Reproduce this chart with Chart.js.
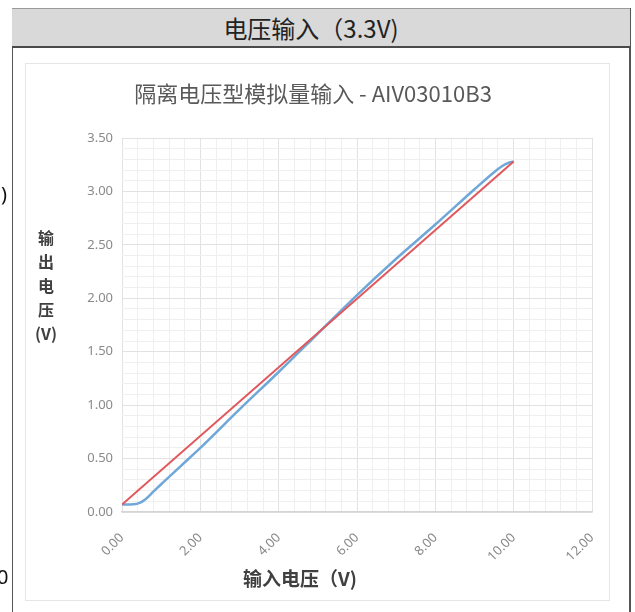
<!DOCTYPE html>
<html>
<head>
<meta charset="utf-8">
<script src="https://cdn.jsdelivr.net/npm/chart.js@4.4.1/dist/chart.umd.min.js"></script>
<style>
  html, body { margin:0; padding:0; background:#ffffff; }
  body { width:635px; height:612px; position:relative; overflow:hidden;
         font-family:"Noto Sans CJK SC","Noto Sans",sans-serif; }
  #frame { position:absolute; left:12px; top:8px; width:616px; height:620px;
           border-left:1.5px solid #555; border-right:2px solid #555; }
  #header { position:absolute; left:12px; top:8px; width:618px; height:40px;
            background:#d9d9d9; border-top:1px solid #9a9a9a; border-bottom:2px solid #4a4a4a;
            box-sizing:border-box; text-align:center; line-height:37px; padding-right:20px;
            font-size:24px; color:#222; }
  #panel { position:absolute; left:25px; top:63px; width:585px; height:538px;
           border:1px solid #e6e6e6; background:#fff; box-sizing:border-box; }
  canvas { position:absolute; left:0; top:0; }
  .txt { position:absolute; color:#404040; font-weight:bold; white-space:nowrap; }
  #ytitle { left:34px; top:225px; width:24px; text-align:center; font-size:16px; line-height:24px; }
  #xtitle { left:200px; top:564px; width:200px; text-align:center; font-size:19px; }
  .stray { position:absolute; color:#111; font-size:20px; font-family:"Noto Sans","DejaVu Sans",sans-serif; }
</style>
</head>
<body>
<div id="frame"></div>
<div id="header">电压输入（3.3V)</div>
<div id="panel"></div>
<canvas id="c" width="635" height="612"></canvas>
<div class="txt" id="ytitle">输<br>出<br>电<br>压<br>(V)</div>
<div class="txt" id="xtitle">输入电压（V)</div>
<div class="stray" style="left:1px; top:180px;">)</div>
<div class="stray" style="left:-3px; top:563px;">0</div>
<script>
// ---- data ----
const chartTitle = "隔离电压型模拟量输入 - AIV03010B3";
const redX  = [0, 10];
const redY  = [0.07, 3.28];
const blueX = [0, 0.3, 0.45, 0.6, 0.8, 1.0, 1.5, 2, 3, 4, 5, 6, 7, 8, 9, 9.5, 9.7, 9.85, 10];
const blueY = [0.07, 0.072, 0.085, 0.12, 0.19, 0.26, 0.43, 0.6, 0.96, 1.31, 1.67, 2.03, 2.37, 2.69, 3.02, 3.18, 3.235, 3.265, 3.28];
const xMin = 0, xMax = 12, xStep = 0.4, xLabelStep = 2;
const yMin = 0, yMax = 3.5, yStep = 0.1, yLabelStep = 0.5;

const toPts = (xs, ys) => xs.map((x, i) => ({x: x, y: ys[i]}));
const isMult = (v, m) => Math.abs(v / m - Math.round(v / m)) < 1e-6;
const tickFont = {family: "'Noto Sans', 'DejaVu Sans', sans-serif", size: 13};

new Chart(document.getElementById('c'), {
  type: 'line',
  data: {
    datasets: [
      { label: '理论', data: toPts(redX, redY), borderColor: '#e0575c', borderWidth: 2,
        pointRadius: 0, tension: 0 },
      { label: '实测', data: toPts(blueX, blueY), borderColor: '#6fa8d8', borderWidth: 2.5,
        pointRadius: 0, cubicInterpolationMode: 'monotone' }
    ]
  },
  options: {
    responsive: false,
    animation: false,
    devicePixelRatio: 1,
    layout: { padding: { left: 34, right: 43, top: 70, bottom: 50 } },
    plugins: {
      legend: { display: false },
      tooltip: { enabled: false },
      title: { display: true, text: chartTitle, color: '#595959',
               font: { family: "'Noto Sans CJK SC', sans-serif", size: 22, weight: 'normal' },
               padding: { top: 10, bottom: 31.6 } }
    },
    scales: {
      x: {
        type: 'linear', min: xMin, max: xMax,
        afterFit: s => { s.height = 50; },
        ticks: { stepSize: xStep, autoSkip: false, minRotation: 45, maxRotation: 45,
                 color: '#8a8a8a', font: tickFont, padding: 18,
                 callback: v => isMult(v, xLabelStep) ? Number(v).toFixed(2) : '' },
        grid: { drawTicks: false,
                color: ctx => (ctx.tick && isMult(ctx.tick.value, xLabelStep)) ? '#e2e2e2' : '#efefef' },
        border: { display: true, color: '#d4d4d4', width: 1.5 }
      },
      y: {
        type: 'linear', min: yMin, max: yMax,
        afterFit: s => { s.width = 88; },
        ticks: { stepSize: yStep, autoSkip: false, color: '#8a8a8a', font: tickFont, padding: 9,
                 callback: v => isMult(v, yLabelStep) ? Number(v).toFixed(2) : '' },
        grid: { drawTicks: false,
                color: ctx => (ctx.tick && isMult(ctx.tick.value, yLabelStep)) ? '#e2e2e2' : '#efefef' },
        border: { display: false }
      }
    }
  }
});
</script>
</body>
</html>
